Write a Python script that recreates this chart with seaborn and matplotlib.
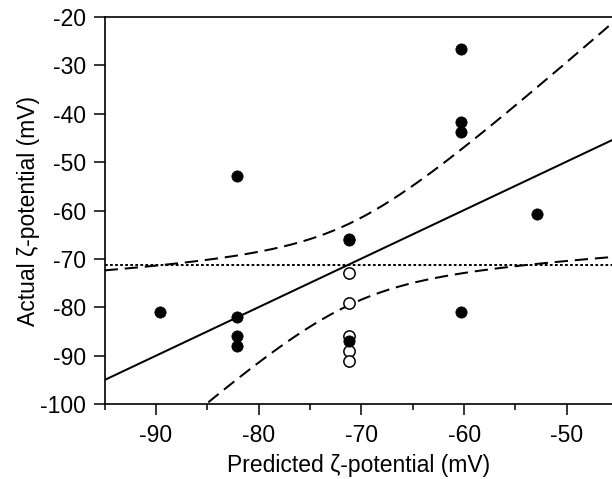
import numpy as np
import pandas as pd
import matplotlib
matplotlib.use("Agg")
import matplotlib.pyplot as plt
import seaborn as sns
from matplotlib.ticker import FixedLocator

# Measured zeta potentials (mV): predicted vs. actual
predicted_filled = [-89.6, -82.15, -82.15, -82.15, -82.15, -71.2, -71.2, -71.2,
                    -60.3, -60.3, -60.3, -60.3, -52.9]
actual_filled = [-81.0, -52.8, -82.0, -86.0, -88.0, -65.8, -66.0, -87.0,
                 -26.7, -41.7, -43.8, -81.0, -60.8]
predicted_open = [-71.2, -71.2, -71.2, -71.2, -71.2]
actual_open = [-73.0, -79.0, -86.0, -89.0, -91.0]

x_ticks = [-90, -80, -70, -60, -50]
x_minor = [-95, -85, -75, -65, -55]
y_ticks = [-20, -30, -40, -50, -60, -70, -80, -90, -100]

sns.set_theme(style="ticks")
plt.rcParams["font.family"] = ["Liberation Sans", "DejaVu Sans"]
plt.rcParams["axes.unicode_minus"] = False

fig = plt.figure(figsize=(6.12, 4.79), dpi=100)
ax = fig.add_axes([0.171, 0.156, 0.829, 0.809])

x_lo, x_hi = -95.0, -45.6

# Ordinary least squares fit over all points with 95% confidence band
x_all = np.array(predicted_filled + predicted_open)
y_all = np.array(actual_filled + actual_open)
n = len(x_all)
x_mean, y_mean = x_all.mean(), y_all.mean()
sxx = np.sum((x_all - x_mean) ** 2)
slope = np.sum((x_all - x_mean) * (y_all - y_mean)) / sxx
intercept = y_mean - slope * x_mean
resid = y_all - (intercept + slope * x_all)
s = np.sqrt(np.sum(resid ** 2) / (n - 2))
t_crit = 2.120  # two-sided 95 %, n - 2 = 16 d.f.

grid = np.linspace(x_lo, x_hi, 300)
fit = intercept + slope * grid
half = t_crit * s * np.sqrt(1.0 / n + (grid - x_mean) ** 2 / sxx)
band = pd.DataFrame({"x": grid, "fit": fit, "upper": fit + half, "lower": fit - half})

lw = 1.45
sns.lineplot(data=band, x="x", y="fit", ax=ax, color="black", lw=lw)
for col in ("upper", "lower"):
    sns.lineplot(data=band, x="x", y=col, ax=ax, color="black", lw=lw,
                 linestyle=(0, (6.6, 3.4)))
ax.axhline(y_mean, color="black", lw=1.4, linestyle=(0, (1.4, 1.2)))

# Points
sns.scatterplot(x=predicted_open, y=actual_open, ax=ax, s=66, marker="o",
                facecolor="white", edgecolor="black", linewidth=1.1, zorder=3)
sns.scatterplot(x=predicted_filled, y=actual_filled, ax=ax, s=66, marker="o",
                color="black", edgecolor="black", linewidth=0.5, zorder=4)

ax.set_xlim(x_lo, x_hi)
ax.set_ylim(-100, -20)
ax.xaxis.set_major_locator(FixedLocator(x_ticks))
ax.xaxis.set_minor_locator(FixedLocator(x_minor))
ax.yaxis.set_major_locator(FixedLocator(y_ticks))
ax.set_xticklabels([str(v) for v in x_ticks])
ax.set_yticklabels([str(v) for v in y_ticks])

for side in ("left", "bottom", "top"):
    ax.spines[side].set_linewidth(1.2)
    ax.spines[side].set_color("black")
ax.spines["right"].set_visible(False)

ax.tick_params(axis="both", which="major", direction="out", length=7.9,
               width=1.1, color="black", labelsize=16.5, labelcolor="black")
ax.tick_params(axis="x", which="major", pad=6)
ax.tick_params(axis="y", which="major", pad=5.5)
ax.tick_params(axis="x", which="minor", direction="out", length=4.3,
               width=1.1, color="black")
ax.tick_params(top=False, right=False)

ax.set_xlabel("Predicted ζ-potential (mV)", fontsize=16.5, color="black", labelpad=5)
ax.set_ylabel("Actual ζ-potential (mV)", fontsize=16.5, color="black", labelpad=0)
ax.set_facecolor("white")
ax.grid(False)

fig.savefig("out.png", dpi=100, facecolor="white")
